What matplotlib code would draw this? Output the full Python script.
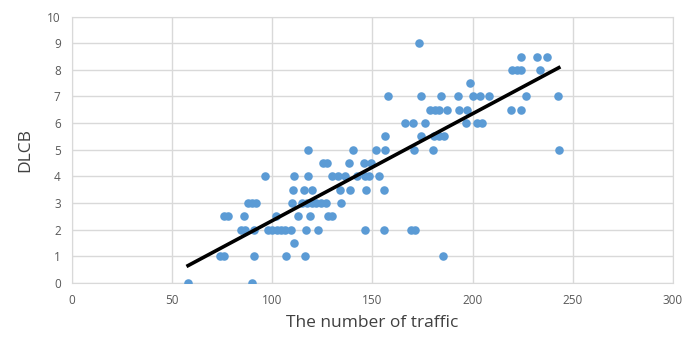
import matplotlib
matplotlib.use("Agg")
import matplotlib.pyplot as plt
import numpy as np

plt.rcParams['font.family'] = ['Open Sans', 'DejaVu Sans']

# traffic count (x) and DLCB (y), grouped by DLCB level
traffic = [
    58, 90,
    74, 76, 91, 107, 116.5, 185,
    110.8,
    84.5, 86.5, 91, 98, 100, 102.5, 104.5, 106.5, 109.5, 117, 123, 146.5, 156, 169, 171,
    76, 78, 86, 102, 113, 119, 128, 130,
    88, 90, 92, 110, 115, 117.5, 120, 122, 124.5, 127, 134.5,
    110.5, 116, 120, 134, 139, 147, 156,
    96.5, 111, 118, 130, 133, 136.5, 142.5, 146.5, 148.5, 153.5,
    125.5, 127.5, 138.5, 146, 149.5,
    118, 140.5, 152, 156.5, 170.5, 180, 243,
    156.5, 174, 180.5, 183, 185.5,
    166, 170, 176, 196.5, 202, 204.5,
    178.5, 181, 183, 187, 193, 197, 219, 224,
    158, 174, 184, 192.5, 200, 203.5, 208, 226.5, 242.5,
    198.5,
    219.5, 222, 224, 233.5,
    224, 232, 237,
    173,
]
dlcb = (
    [0] * 2 + [1] * 6 + [1.5] * 1 + [2] * 15 + [2.5] * 8 + [3] * 11 + [3.5] * 7
    + [4] * 10 + [4.5] * 5 + [5] * 7 + [5.5] * 5 + [6] * 6 + [6.5] * 8 + [7] * 9
    + [7.5] * 1 + [8] * 4 + [8.5] * 3 + [9] * 1
)

x = np.array(traffic)
y = np.array(dlcb)

fig = plt.figure(figsize=(6.84, 3.38), dpi=100)
ax = fig.add_axes([0.105, 0.1636, 0.879, 0.787])

ax.scatter(x, y, s=38, color='#5B9BD5', zorder=3, linewidths=0)

# linear trendline over the data range
k, b = np.polyfit(x, y, 1)
xs = np.array([x.min(), x.max()])
ax.plot(xs, k * xs + b, color='black', lw=2.6, zorder=4)

ax.set_xlim(0, 300)
ax.set_ylim(0, 10)
ax.set_xticks(range(0, 301, 50))
ax.set_yticks(range(0, 11))
ax.grid(True, color='#D9D9D9', lw=1)
ax.set_axisbelow(True)
for s in ax.spines.values():
    s.set_color('#D9D9D9')
ax.tick_params(length=0, colors='#595959', labelsize=8.5, pad=8)

ax.set_xlabel('The number of traffic', fontsize=12.5, color='#404040', labelpad=6)
ax.set_ylabel('DLCB', fontsize=12.5, color='#404040', labelpad=10)

fig.savefig('out.png', dpi=100)
